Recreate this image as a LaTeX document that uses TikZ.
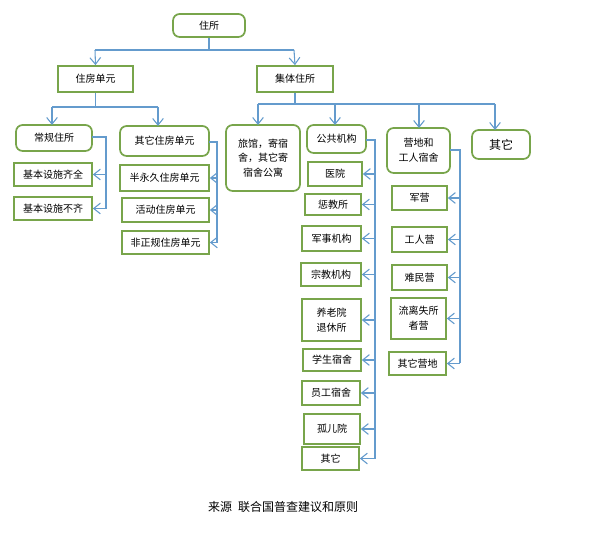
\documentclass[tikz,border=0pt]{standalone}
\usepackage{fontspec}
\setmainfont{Noto Sans CJK SC}
\usetikzlibrary{arrows.meta}
\definecolor{gbox}{RGB}{120,165,75}
\definecolor{bline}{RGB}{100,155,205}
\begin{document}
\begin{tikzpicture}[x=0.75pt,y=-0.75pt,
 bx/.style={draw=gbox,line width=1.3pt,fill=white,inner sep=0pt,font=\fontsize{7.5}{11}\selectfont,align=center},
 rbx/.style={bx,rounded corners=5pt},
 ln/.style={draw=bline,line width=0.8pt},
 ar/.style={ln,-{Straight Barb[length=5pt,width=8pt]}}]
\useasboundingbox (0,0) rectangle (600,538);
\def\B#1#2#3#4#5#6#7{\node[#1,minimum width={(#5-#4)*0.75pt},minimum height={(#7-#6)*0.75pt}] (#2) at ({(#4+#5)/2},{(#6+#7)/2}) {#3};}
\B{rbx}{root}{住所}{173}{245}{14}{37}
\B{bx}{hu}{住房单元}{58}{133}{66}{92}
\B{bx}{col}{集体住所}{257}{333}{66}{92}
\B{rbx}{reg}{常规住所}{16}{92}{125}{151}
\B{bx}{r1}{基本设施齐全}{14}{92}{163}{186}
\B{bx}{r2}{基本设施不齐}{14}{92}{197}{220}
\B{rbx}{oth}{其它住房单元}{120}{209}{126}{156}
\B{bx}{o1}{半永久住房单元}{120}{209}{165}{191}
\B{bx}{o2}{活动住房单元}{122}{209}{198}{222}
\B{bx}{o3}{非正规住房单元}{122}{209}{231}{254}
\B{rbx}{hot}{旅馆，寄宿\\舍，其它寄\\宿舍公寓}{226}{300}{125}{191}
\B{rbx}{pub}{公共机构}{307}{366}{125}{153}
\B{bx}{p1}{医院}{308}{362}{162}{186}
\B{bx}{p2}{惩教所}{305}{361}{194}{215}
\B{bx}{p3}{军事机构}{302}{361}{226}{251}
\B{bx}{p4}{宗教机构}{301}{361}{263}{286}
\B{bx}{p5}{养老院\\退休所}{302}{361}{299}{341}
\B{bx}{p6}{学生宿舍}{303}{361}{349}{371}
\B{bx}{p7}{员工宿舍}{302}{360}{381}{405}
\B{bx}{p8}{孤儿院}{304}{360}{414}{444}
\B{bx}{p9}{其它}{302}{359}{447}{470}
\B{rbx}{camp}{营地和\\工人宿舍}{387}{450}{128}{173}
\B{bx}{c1}{军营}{392}{447}{186}{210}
\B{bx}{c2}{工人营}{392}{447}{227}{252}
\B{bx}{c3}{难民营}{392}{447}{265}{290}
\B{bx}{c4}{流离失所\\者营}{391}{446}{298}{339}
\B{bx}{c5}{其它营地}{389}{446}{352}{375}
\B{rbx}{other}{\fontsize{9}{11}\selectfont 其它}{472}{530}{130}{159}
% tree lines
\draw[ln] (root.south) -- (root.south |- 0,50);
\draw[ln] (95,50) -- (294,50);
\draw[ar] (95,50) -- (hu.north);
\draw[ar] (294,50) -- (col.north);
\draw[ln] (hu.south) -- (hu.south |- 0,107);
\draw[ln] (52,107) -- (158,107);
\draw[ar] (52,107) -- (52,125);
\draw[ar] (158,107) -- (158,126);
\draw[ln] (col.south) -- (col.south |- 0,104);
\draw[ln] (258,104) -- (495,104);
\draw[ar] (258,104) -- (258,125);
\draw[ar] (335,104) -- (335,125);
\draw[ar] (419,104) -- (419,128);
\draw[ar] (495,104) -- (495,130);
% brackets
\draw[ln] (92,137) -- (106,137) -- (106,209);
\foreach \n in {r1,r2} \draw[ar] (106,0 |- \n.east) -- (\n.east);
\draw[ln] (209,142) -- (217,142) -- (217,243);
\foreach \n in {o1,o2,o3} \draw[ar] (217,0 |- \n.east) -- (\n.east);
\draw[ln] (366,140) -- (375,140) -- (375,459);
\foreach \n in {p1,p2,p3,p4,p5,p6,p7,p8,p9} \draw[ar] (375,0 |- \n.east) -- (\n.east);
\draw[ln] (450,150) -- (460,150) -- (460,363);
\foreach \n in {c1,c2,c3,c4,c5} \draw[ar] (460,0 |- \n.east) -- (\n.east);
\node[font=\fontsize{9}{11}\selectfont] (cap) at (283,507) {来源\enspace 联合国普查建议和原则};
\end{tikzpicture}
\end{document}
